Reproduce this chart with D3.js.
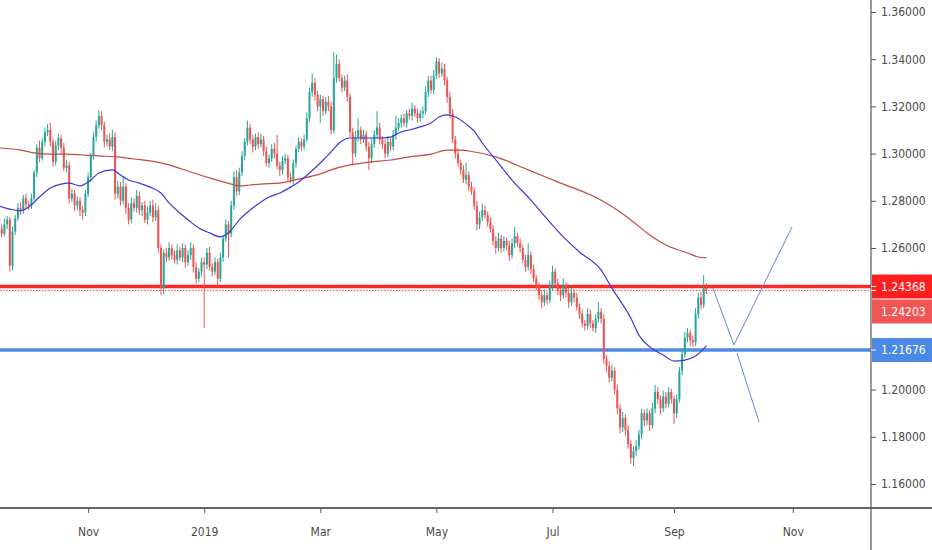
<!DOCTYPE html>
<html lang="en">
	<head>
		<meta charset="UTF-8" />
		<title>Daily candles with moving averages</title>
		<script src="https://d3js.org/d3.v7.min.js"></script>
		<style>
			body {
				margin: 0;
				background: #fff;
			}
			svg {
				display: block;
				background: #fff;
			}
			.axis text {
				font-family: 'DejaVu Sans Condensed', 'DejaVu Sans', sans-serif;
				font-size: 12px;
				fill: #4a4a4a;
			}
			.axis line {
				stroke: #555;
			}
			.tag {
				font-family: 'DejaVu Sans Condensed', 'DejaVu Sans', sans-serif;
				font-size: 12px;
				fill: #fff;
			}
		</style>
	</head>
	<body>
		<svg width="932" height="550"></svg>
		<script>
			// first trading day shown, and the open of that bar (pips: 1 + n / 10000)
			const firstDay = '2018-09-17';
			const firstOpen = 2700;

			// daily closes in pips, one per weekday
			const closes = [
				2680, 2660, 2700, 2720, 2525, 2670, 2725, 2770, 2760, 2810,
				2785, 2780, 2810, 2920, 3025, 2980, 3050, 3090, 3100, 3050,
				2965, 3035, 3065, 3025, 2940, 2950, 2810, 2830, 2780, 2800,
				2760, 2750, 2830, 2900, 2990, 3070, 3120, 3160, 3120, 3050,
				3060, 3030, 3070, 2830, 2860, 2800, 2860, 2770, 2720, 2790,
				2770, 2820, 2760, 2780, 2720, 2750, 2780, 2730, 2760, 2600,
				2430, 2580, 2560, 2600, 2570, 2550, 2590, 2560, 2600, 2540,
				2570, 2600, 2520, 2470, 2500, 2540, 2530, 2580, 2520, 2500,
				2540, 2470, 2560, 2640, 2700, 2660, 2780, 2900, 2840, 2920,
				2990, 3050, 3110, 3060, 3030, 3070, 3040, 3060, 3010, 2960,
				2980, 3020, 3000, 2950, 2930, 2970, 2980, 2900, 2890, 2960,
				3020, 3050, 3030, 3060, 3150, 3260, 3300, 3250, 3200, 3230,
				3180, 3220, 3200, 3100, 3320, 3380, 3320, 3280, 3310, 3240,
				3090, 3000, 3070, 3100, 3060, 3080, 3030, 2980, 3040, 3080,
				3110, 3060, 3040, 3000, 3050, 3030, 3080, 3110, 3130, 3150,
				3130, 3170, 3160, 3190, 3170, 3150, 3170, 3180, 3260, 3310,
				3270, 3330, 3390, 3340, 3360, 3310, 3240, 3170, 3060, 3000,
				2960, 2930, 2890, 2910, 2860, 2840, 2780, 2700, 2730, 2760,
				2740, 2710, 2680, 2630, 2600, 2640, 2600, 2630, 2610, 2570,
				2620, 2650, 2620, 2600, 2550, 2520, 2570, 2510, 2470, 2440,
				2400, 2370, 2400, 2380, 2440, 2500, 2450, 2420, 2400, 2440,
				2410, 2370, 2410, 2390, 2350, 2320, 2280, 2270, 2320, 2280,
				2260, 2300, 2330, 2300, 2130, 2100, 2050, 2080, 2000, 1920,
				1840, 1880, 1830, 1770, 1710, 1740, 1760, 1810, 1900, 1870,
				1900, 1850, 1920, 1990, 1960, 1920, 1970, 1940, 1990, 1960,
				1900, 1960, 2080, 2150, 2220, 2240, 2210, 2200, 2320, 2390,
				2360, 2430, 2420.3
			];

			// wick length above the body top, pips
			const upWick = [
				15, 20, 25, 15, 10, 20, 15, 20, 25, 15,
				20, 15, 20, 10, 15, 30, 15, 20, 25, 30,
				15, 20, 20, 15, 20, 25, 15, 20, 15, 20,
				15, 20, 15, 20, 15, 20, 20, 25, 20, 15,
				20, 25, 30, 20, 25, 20, 40, 15, 20, 25,
				20, 25, 20, 15, 20, 25, 20, 25, 30, 20,
				15, 15, 20, 25, 15, 20, 25, 15, 20, 15,
				20, 25, 15, 20, 15, 20, 20, 20, 25, 15,
				20, 15, 20, 15, 20, 15, 20, 25, 30, 20,
				20, 15, 30, 15, 20, 15, 20, 25, 15, 20,
				15, 20, 25, 80, 15, 20, 20, 15, 20, 15,
				15, 20, 15, 20, 25, 20, 40, 20, 15, 20,
				15, 20, 25, 20, 110, 40, 20, 15, 20, 25,
				15, 20, 25, 50, 15, 20, 15, 20, 25, 20,
				70, 20, 15, 20, 25, 20, 20, 50, 20, 15,
				20, 15, 20, 25, 15, 20, 15, 20, 25, 20,
				20, 25, 20, 15, 25, 20, 15, 20, 20, 15,
				20, 15, 20, 50, 15, 20, 15, 20, 25, 30,
				20, 15, 20, 15, 20, 25, 15, 20, 15, 20,
				20, 40, 15, 20, 15, 20, 50, 15, 20, 15,
				15, 20, 25, 15, 20, 25, 15, 20, 15, 30,
				15, 20, 25, 15, 20, 15, 20, 15, 25, 20,
				15, 20, 40, 15, 20, 15, 20, 25, 15, 20,
				20, 25, 15, 20, 15, 20, 25, 20, 20, 15,
				20, 15, 25, 30, 20, 15, 25, 20, 20, 15,
				15, 20, 15, 20, 25, 20, 15, 20, 25, 20,
				25, 55, 20
			];

			// wick length below the body bottom, pips
			const downWick = [
				20, 15, 10, 20, 25, 20, 15, 10, 20, 15,
				15, 20, 15, 10, 20, 15, 10, 20, 15, 20,
				20, 15, 20, 25, 15, 20, 20, 15, 25, 20,
				25, 30, 15, 15, 20, 15, 20, 15, 20, 25,
				20, 15, 20, 25, 20, 20, 15, 25, 20, 15,
				15, 20, 20, 25, 15, 20, 15, 20, 15, 20,
				30, 25, 20, 15, 20, 15, 20, 15, 20, 25,
				15, 20, 25, 20, 15, 20, 270, 20, 15, 20,
				15, 30, 15, 20, 15, 100, 15, 20, 20, 15,
				15, 20, 15, 20, 25, 15, 20, 15, 20, 15,
				20, 15, 20, 15, 25, 20, 15, 20, 15, 20,
				20, 15, 20, 15, 10, 15, 20, 25, 20, 70,
				20, 15, 20, 20, 15, 20, 15, 20, 15, 20,
				20, 50, 15, 20, 20, 15, 20, 50, 20, 15,
				15, 20, 20, 20, 15, 20, 15, 20, 15, 20,
				15, 20, 15, 20, 15, 20, 15, 20, 15, 20,
				15, 20, 15, 20, 15, 20, 25, 20, 15, 20,
				15, 20, 15, 20, 20, 15, 20, 25, 20, 15,
				15, 20, 15, 20, 25, 15, 20, 15, 20, 25,
				15, 20, 15, 20, 15, 20, 15, 20, 15, 20,
				20, 25, 15, 20, 15, 20, 15, 20, 25, 15,
				20, 25, 15, 20, 15, 20, 15, 20, 15, 20,
				15, 20, 15, 20, 20, 25, 20, 15, 20, 25,
				25, 20, 25, 20, 25, 35, 20, 15, 20, 25,
				20, 25, 15, 20, 20, 25, 15, 20, 15, 20,
				45, 20, 15, 20, 15, 20, 25, 20, 15, 20,
				20, 15, 15
			];

			// moving averages: [bar index, price]
			const fastMA = [
				[0, 1.2778], [4, 1.2765], [8, 1.2757], [11, 1.2774], [15, 1.2816],
				[19, 1.2854], [23, 1.2871], [26, 1.2875], [30, 1.2863], [34, 1.2888],
				[37, 1.2918], [42, 1.2931], [45, 1.2909], [48, 1.2888], [52, 1.2875],
				[56, 1.2858], [60, 1.2833], [63, 1.2791], [67, 1.2748], [71, 1.271],
				[74, 1.2685], [78, 1.2664], [82, 1.2647], [84, 1.2655], [86, 1.2676],
				[89, 1.2719], [93, 1.2761], [97, 1.2795], [100, 1.2816], [104, 1.2833],
				[108, 1.2858], [111, 1.288], [115, 1.2918], [119, 1.296], [123, 1.3007],
				[126, 1.3045], [130, 1.3066], [134, 1.3066], [137, 1.3066], [141, 1.3066],
				[145, 1.307], [149, 1.3092], [152, 1.31], [156, 1.3113], [160, 1.313],
				[163, 1.3155], [166, 1.3164], [169, 1.3155], [173, 1.3125], [176, 1.3095],
				[179, 1.3045], [184, 1.2973], [190, 1.2888], [197, 1.2803], [203, 1.2723],
				[209, 1.2647], [215, 1.2583], [223, 1.2507], [227, 1.243], [234, 1.2303],
				[237, 1.2231], [241, 1.2181], [246, 1.2147], [250, 1.2121], [254, 1.2125],
				[258, 1.2142], [262, 1.2185]
			];
			const slowMA = [
				[0, 1.3024], [8, 1.3015], [13, 1.3003], [19, 1.2998], [25, 1.2998],
				[31, 1.2994], [37, 1.299], [44, 1.2986], [50, 1.2977], [56, 1.2969],
				[63, 1.2952], [71, 1.2922], [78, 1.2897], [86, 1.2871], [89, 1.2863],
				[93, 1.2867], [97, 1.2871], [104, 1.2875], [111, 1.2892], [119, 1.2914],
				[123, 1.2931], [130, 1.2952], [137, 1.2964], [145, 1.2973], [152, 1.2986],
				[160, 1.2998], [166, 1.3015], [171, 1.3015], [174, 1.3011], [184, 1.2986],
				[196, 1.2931], [208, 1.2875], [220, 1.282], [230, 1.2753], [234, 1.2719],
				[240, 1.2664], [247, 1.2613], [255, 1.2579], [259, 1.2562], [262, 1.2558]
			];

			// drawn levels and projection strokes
			const resistance = 1.24368;
			const support = 1.21676;
			const pathUp = [[264.4, 1.2431], [272.2, 1.2189], [293.7, 1.2689]];
			const pathDown = [[273.3, 1.2155], [281.5, 1.1863]];

			const priceTicks = [1.16, 1.18, 1.2, 1.26, 1.28, 1.3, 1.32, 1.34, 1.36];
			const tickMonths = ['2018-11', '2019-01', '2019-03', '2019-05', '2019-07', '2019-09', '2019-11'];

			const W = 932,
				H = 550,
				plotR = 871,
				plotB = 508;
			const svg = d3.select('svg');

			// weekday calendar for the bar index
			const days = [];
			for (let t = d3.utcParse('%Y-%m-%d')(firstDay); days.length < 340; t = d3.utcDay.offset(t, 1)) {
				const wd = t.getUTCDay();
				if (wd !== 0 && wd !== 6) days.push(t);
			}

			const pip = (p) => 1 + p / 10000;
			const bars = closes.map((c, i) => {
				const o = i === 0 ? firstOpen : closes[i - 1];
				return {
					i,
					open: pip(o),
					close: pip(c),
					high: pip(Math.max(o, c) + upWick[i]),
					low: pip(Math.min(o, c) - downWick[i])
				};
			});

			const x = d3.scaleLinear().domain([0, 323]).range([-1, 871.1]);
			const y = d3.scaleLinear().domain([1.16, 1.36]).range([484, 12]);

			svg.append('clipPath')
				.attr('id', 'plot')
				.append('rect')
				.attr('width', plotR)
				.attr('height', plotB);

			const plot = svg.append('g').attr('clip-path', 'url(#plot)');

			// level lines
			plot.append('line')
				.attr('x1', 0)
				.attr('x2', plotR)
				.attr('y1', y(resistance))
				.attr('y2', y(resistance))
				.attr('stroke', '#ff2626')
				.attr('stroke-width', 3.5);
			plot.append('line')
				.attr('x1', 0)
				.attr('x2', plotR)
				.attr('y1', y(bars[bars.length - 1].close))
				.attr('y2', y(bars[bars.length - 1].close))
				.attr('stroke', '#f04848')
				.attr('stroke-width', 1)
				.attr('stroke-dasharray', '1.5,1.5');
			plot.append('line')
				.attr('x1', 0)
				.attr('x2', plotR)
				.attr('y1', y(support))
				.attr('y2', y(support))
				.attr('stroke', '#4f8be6')
				.attr('stroke-width', 3.5);

			// candles
			const up = '#26a69a',
				down = '#ef5350';
			const candle = plot.append('g')
				.selectAll('g')
				.data(bars)
				.enter()
				.append('g');
			candle.append('line')
				.attr('x1', (d) => x(d.i))
				.attr('x2', (d) => x(d.i))
				.attr('y1', (d) => y(d.high))
				.attr('y2', (d) => y(d.low))
				.attr('stroke', (d) => (d.close >= d.open ? up : down))
				.attr('stroke-width', 1);
			candle.append('rect')
				.attr('x', (d) => x(d.i) - 1)
				.attr('width', 2)
				.attr('y', (d) => y(Math.max(d.open, d.close)))
				.attr('height', (d) => Math.max(1, Math.abs(y(d.open) - y(d.close))))
				.attr('fill', (d) => (d.close >= d.open ? up : down));

			// moving averages
			const maLine = d3
				.line()
				.x((d) => x(d[0]))
				.y((d) => y(d[1]))
				.curve(d3.curveMonotoneX);
			plot.append('path')
				.attr('d', maLine(slowMA))
				.attr('fill', 'none')
				.attr('stroke', '#c24a42')
				.attr('stroke-width', 1.2);
			plot.append('path')
				.attr('d', maLine(fastMA))
				.attr('fill', 'none')
				.attr('stroke', '#3a3ad8')
				.attr('stroke-width', 1.2);

			// projection strokes
			const straight = d3
				.line()
				.x((d) => x(d[0]))
				.y((d) => y(d[1]));
			[pathUp, pathDown].forEach((p) => {
				plot.append('path')
					.attr('d', straight(p))
					.attr('fill', 'none')
					.attr('stroke', '#5b8ddb')
					.attr('stroke-width', 1);
			});

			// axes
			const tickIdx = tickMonths.map((m) => days.findIndex((d) => d3.utcFormat('%Y-%m')(d) === m));
			const monthLabel = (i) =>
				days[i].getUTCMonth() === 0 ? d3.utcFormat('%Y')(days[i]) : d3.utcFormat('%b')(days[i]);

			const xAxis = svg.append('g')
				.attr('class', 'axis')
				.attr('transform', `translate(0,${plotB})`)
				.call(d3.axisBottom(x).tickValues(tickIdx).tickFormat(monthLabel).tickSize(5).tickPadding(14));
			xAxis.select('.domain').remove();

			const yAxis = svg.append('g')
				.attr('class', 'axis')
				.attr('transform', `translate(${plotR},0)`)
				.call(d3.axisRight(y).tickValues(priceTicks).tickFormat(d3.format('.5f')).tickSize(5).tickPadding(5));
			yAxis.select('.domain').remove();

			svg.append('line')
				.attr('x1', 0)
				.attr('x2', W)
				.attr('y1', plotB)
				.attr('y2', plotB)
				.attr('stroke', '#666')
				.attr('stroke-width', 1.8);
			svg.append('line')
				.attr('x1', plotR)
				.attr('x2', plotR)
				.attr('y1', 0)
				.attr('y2', H)
				.attr('stroke', '#555')
				.attr('stroke-width', 1.2);

			// price tags on the right scale
			const tags = [
				{ v: resistance, fill: '#ff1f1f' },
				{ v: bars[bars.length - 1].close, fill: '#f05656' },
				{ v: support, fill: '#4a89e6' }
			];
			let prevBottom = -Infinity;
			tags.forEach((t) => {
				let cy = y(t.v);
				if (cy - 12 < prevBottom + 1) cy = prevBottom + 13;
				prevBottom = cy + 12;
				svg.append('rect')
					.attr('x', plotR + 1)
					.attr('y', cy - 12)
					.attr('width', W - plotR - 1)
					.attr('height', 24)
					.attr('fill', t.fill);
				svg.append('line')
					.attr('x1', plotR)
					.attr('x2', plotR + 5)
					.attr('y1', y(t.v))
					.attr('y2', y(t.v))
					.attr('stroke', '#fff');
				svg.append('text')
					.attr('class', 'tag')
					.attr('x', plotR + 10)
					.attr('y', cy)
					.attr('dy', '0.35em')
					.text(d3.format('.5f')(t.v));
			});
		</script>
	</body>
</html>
